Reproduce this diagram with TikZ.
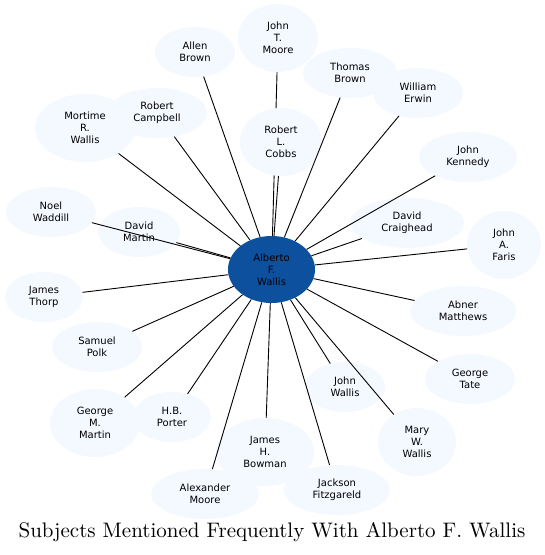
\documentclass[tikz,border=0pt]{standalone}
\usepackage{fontspec}
\newfontfamily\labelfont{DejaVu Sans}
\newfontfamily\titlefont{lmroman10-regular.otf}
\usetikzlibrary{shapes.geometric,backgrounds}
\definecolor{hubblue}{RGB}{13,80,157}
\definecolor{leaffill}{RGB}{244,248,255}

\begin{document}
\begin{tikzpicture}[
  x=1pt, y=-1pt,
  every node/.style={inner sep=0pt},
  person/.style={ellipse, fill=leaffill, align=center,
    font=\labelfont\fontsize{10}{12}\selectfont},
  hub/.style={person, fill=hubblue},
  link/.style={draw, line width=0.9pt}]

  \useasboundingbox (0,0) rectangle (545,555);

  % vertices
  \node[hub, minimum width=87pt, minimum height=67pt] (alb) at (271.5,269.5) {Alberto\\F.\\Wallis};

  \node[person, minimum width=80pt, minimum height=50pt] (allen)      at (195,52)  {Allen\\Brown};
  \node[person, minimum width=80pt, minimum height=68pt] (jtmoore)    at (278,38)  {John\\T.\\Moore};
  \node[person, minimum width=94pt, minimum height=50pt] (tbrown)     at (350,73)  {Thomas\\Brown};
  \node[person, minimum width=90pt, minimum height=50pt] (werwin)     at (418,93)  {William\\Erwin};
  \node[person, minimum width=100pt,minimum height=68pt] (mrwallis)   at (85,128)  {Mortime\\R.\\Wallis};
  \node[person, minimum width=100pt,minimum height=50pt] (rcampbell)  at (157,113) {Robert\\Campbell};
  \node[person, minimum width=82pt, minimum height=68pt] (rcobbs)     at (281,142) {Robert\\L.\\Cobbs};
  \node[person, minimum width=98pt, minimum height=50pt] (jkennedy)   at (468,157) {John\\Kennedy};
  \node[person, minimum width=114pt,minimum height=50pt] (dcraighead) at (407,223) {David\\Craighead};
  \node[person, minimum width=74pt, minimum height=68pt] (jfaris)     at (504,245) {John\\A.\\Faris};
  \node[person, minimum width=90pt, minimum height=50pt] (nwaddill)   at (51,212)  {Noel\\Waddill};
  \node[person, minimum width=82pt, minimum height=50pt] (dmartin)    at (139,232) {David\\Martin};
  \node[person, minimum width=78pt, minimum height=50pt] (jthorp)     at (44,297)  {James\\Thorp};
  \node[person, minimum width=106pt,minimum height=50pt] (amatthews)  at (463,311) {Abner\\Matthews};
  \node[person, minimum width=90pt, minimum height=50pt] (spolk)      at (97,347)  {Samuel\\Polk};
  \node[person, minimum width=90pt, minimum height=50pt] (gtate)      at (470,379) {George\\Tate};
  \node[person, minimum width=80pt, minimum height=50pt] (jwallis)    at (345,387) {John\\Wallis};
  \node[person, minimum width=90pt, minimum height=68pt] (gmmartin)   at (95,423)  {George\\M.\\Martin};
  \node[person, minimum width=78pt, minimum height=50pt] (hbporter)   at (172,417) {H.B.\\Porter};
  \node[person, minimum width=78pt, minimum height=68pt] (mwwallis)   at (417,442) {Mary\\W.\\Wallis};
  \node[person, minimum width=98pt, minimum height=68pt] (jhbowman)   at (265,452) {James\\H.\\Bowman};
  \node[person, minimum width=108pt,minimum height=50pt] (amoore)     at (205,494) {Alexander\\Moore};
  \node[person, minimum width=106pt,minimum height=50pt] (jfitz)      at (337,490) {Jackson\\Fitzgareld};

  % edges; the one to John T. Moore stays under Robert L. Cobbs
  \begin{pgfonlayer}{background}
    \draw[link] (alb) -- (jtmoore);
  \end{pgfonlayer}
  \foreach \other in {allen, tbrown, werwin, mrwallis, rcampbell, rcobbs,
      jkennedy, dcraighead, jfaris, nwaddill, dmartin, jthorp, amatthews,
      spolk, gtate, jwallis, gmmartin, hbporter, mwwallis, jhbowman,
      amoore, jfitz}
    \draw[link] (alb) -- (\other);

  % caption
  \node (caption) at (272,532) {\titlefont\fontsize{21}{24}\selectfont Subjects Mentioned Frequently With Alberto F. Wallis};
\end{tikzpicture}
\end{document}
